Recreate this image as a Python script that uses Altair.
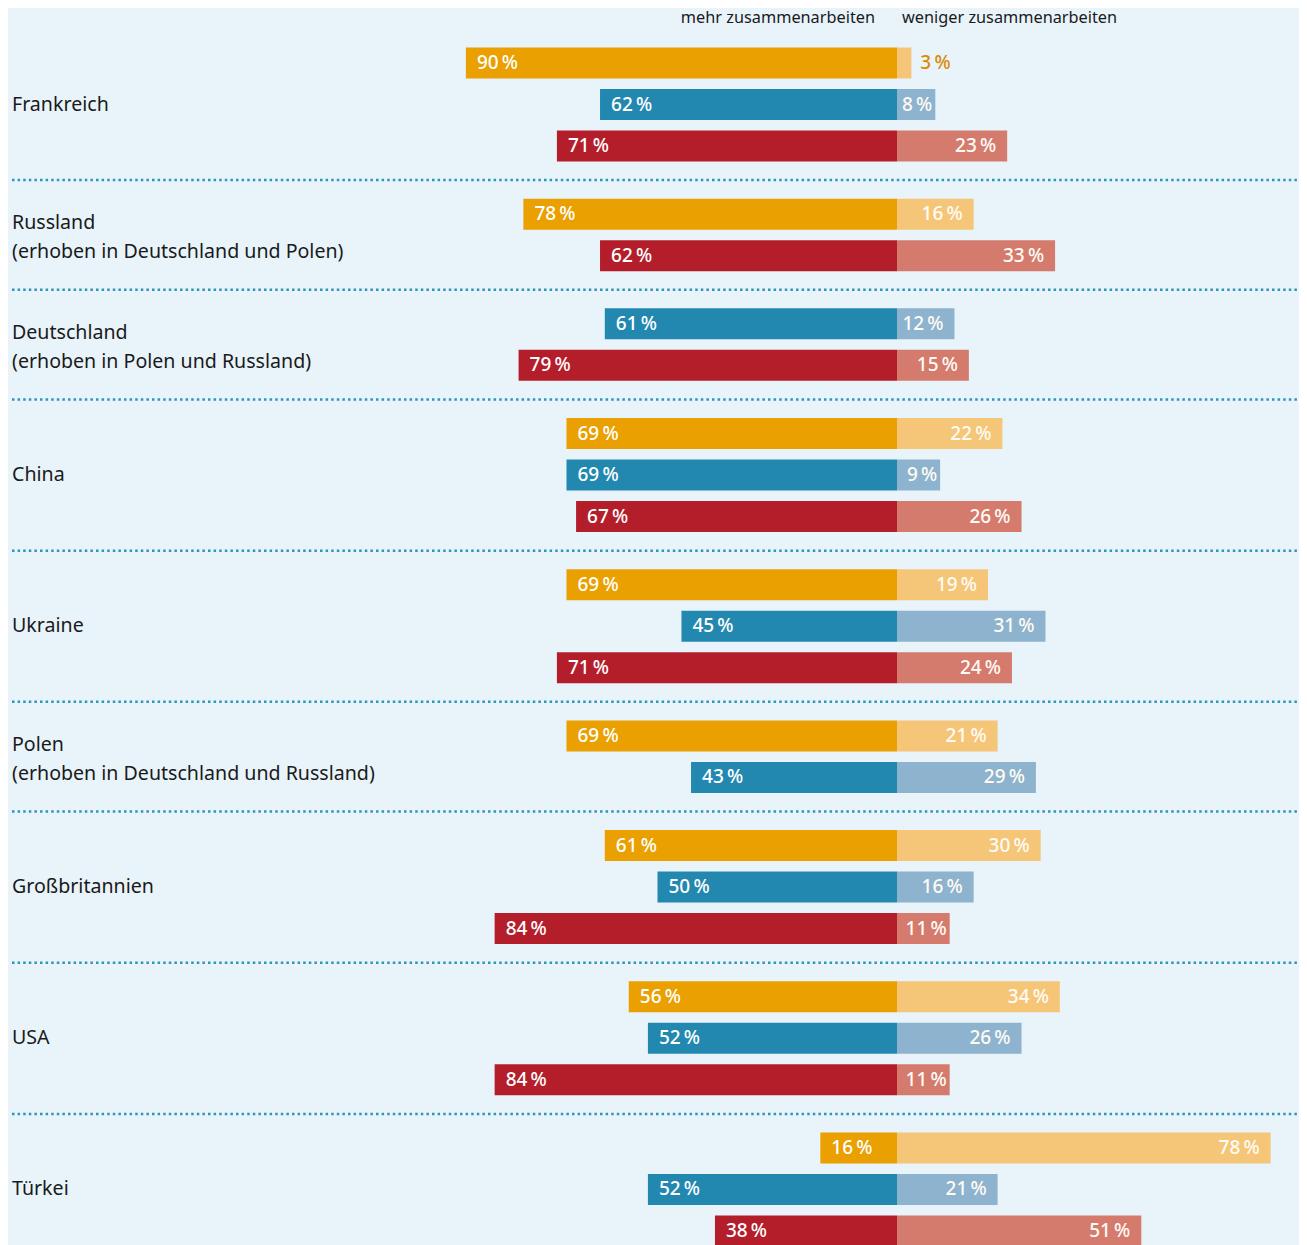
import altair as alt
import pandas as pd

# ---- data ----
group_lines = [
    ["Frankreich"],
    ["Russland", "(erhoben in Deutschland und Polen)"],
    ["Deutschland", "(erhoben in Polen und Russland)"],
    ["China"],
    ["Ukraine"],
    ["Polen", "(erhoben in Deutschland und Russland)"],
    ["Großbritannien"],
    ["USA"],
    ["Türkei"],
]
group_series = [
    ["Deutschland", "Russland", "Polen"],
    ["Deutschland", "Polen"],
    ["Russland", "Polen"],
    ["Deutschland", "Russland", "Polen"],
    ["Deutschland", "Russland", "Polen"],
    ["Deutschland", "Russland"],
    ["Deutschland", "Russland", "Polen"],
    ["Deutschland", "Russland", "Polen"],
    ["Deutschland", "Russland", "Polen"],
]
more_values = [
    [90, 62, 71], [78, 62], [61, 79], [69, 69, 67], [69, 45, 71],
    [69, 43], [61, 50, 84], [56, 52, 84], [16, 52, 38],
]
less_values = [
    [3, 8, 23], [16, 33], [12, 15], [22, 9, 26], [19, 31, 24],
    [21, 29], [30, 16, 11], [34, 26, 11], [78, 21, 51],
]
series_names = ["Deutschland", "Russland", "Polen"]
dark_colors = ["#E9A000", "#2288B0", "#B41E2B"]
light_colors = ["#F5C678", "#8EB3CE", "#D47B6E"]
header_left = "mehr zusammenarbeiten"
header_right = "weniger zusammenarbeiten"

# ---- layout constants ----
GAP_EXTRA = 0.643
W, H = 1291, 1250
PX_PER_PCT = 4.79
CENTER_PX = 889
ROW_PX = 41.5
FIRST_ROW_PX = 55
HALF_BAR = 15.5 / ROW_PX

x_dom = [-CENTER_PX / PX_PER_PCT, (W - CENTER_PX) / PX_PER_PCT]
y_min = -FIRST_ROW_PX / ROW_PX
y_dom = [y_min, y_min + H / ROW_PX]

rows, labels, seps = [], [], []
idx = 0
for g, (lines, sers, mv, lv) in enumerate(zip(group_lines, group_series, more_values, less_values)):
    poss = []
    for s, m, l in zip(sers, mv, lv):
        pos = idx + g * GAP_EXTRA
        poss.append(pos)
        rows.append({"series": s, "more": m, "less": l,
                     "neg": -m, "zero": 0, "pos": pos,
                     "ltxt": f"{m}\u2009%", "rtxt": f"{l}\u2009%"})
        idx += 1
    center = sum(poss) / len(poss)
    for li, line in enumerate(lines):
        labels.append({"label": line, "pos": center, "line": li, "nlines": len(lines)})
    if g < len(group_lines) - 1:
        seps.append({"pos": poss[-1] + (1 + GAP_EXTRA) / 2})

df = pd.DataFrame(rows)
ldf = pd.DataFrame(labels)
sdf = pd.DataFrame(seps)

xs = alt.Scale(domain=x_dom, nice=False, zero=False)
ys = alt.Scale(domain=y_dom, nice=False, zero=False, reverse=True)
FONT = "Noto Sans"


def X(f):
    return alt.X(f, scale=xs, axis=None)


def Y(f):
    return alt.Y(f, scale=ys, axis=None)


base = alt.Chart(df).transform_calculate(
    y0=f"datum.pos - {HALF_BAR}", y1=f"datum.pos + {HALF_BAR}")

layers = []
for s, dc, lc in zip(series_names, dark_colors, light_colors):
    sb = base.transform_filter(alt.datum.series == s)
    layers.append(sb.mark_rect(color=dc).encode(
        x=X("neg:Q"), x2="zero:Q", y=Y("y0:Q"), y2="y1:Q"))
    layers.append(sb.mark_rect(color=lc).encode(
        x=X("zero:Q"), x2="less:Q", y=Y("y0:Q"), y2="y1:Q"))

txt = dict(font=FONT, fontSize=19, fontWeight=500, baseline="middle")

left_text = alt.Chart(df).mark_text(align="left", dx=11, color="white", **txt).encode(
    x=X("neg:Q"), y=Y("pos:Q"), text="ltxt:N")
right_text_big = alt.Chart(df).transform_filter("datum.less >= 12").mark_text(
    align="right", dx=-11, color="#FFFBF5", **txt).encode(
    x=X("less:Q"), y=Y("pos:Q"), text="rtxt:N")
right_text_small = alt.Chart(df).transform_filter("datum.less >= 4 && datum.less < 12").mark_text(
    align="right", dx=-3, color="#FFFBF5", **txt).encode(
    x=X("less:Q"), y=Y("pos:Q"), text="rtxt:N")
right_text_out = alt.Chart(df).transform_filter("datum.less < 4").mark_text(
    align="left", dx=9, color="#D98C00", **txt).encode(
    x=X("less:Q"), y=Y("pos:Q"), text="rtxt:N")

sep_rules = alt.Chart(sdf).mark_rule(
    color="#2E96BA", strokeWidth=2.5, strokeDash=[2.5, 3.1]).encode(
    x=alt.value(4), x2=alt.value(W), y=Y("pos:Q"))

lab = dict(align="left", baseline="middle", font=FONT, fontSize=19.6, color="#1A1A1A")
single = alt.Chart(ldf).transform_filter("datum.nlines == 1").mark_text(**lab).encode(
    x=alt.value(4), y=Y("pos:Q"), text="label:N")
first = alt.Chart(ldf).transform_filter("datum.nlines == 2 && datum.line == 0").mark_text(
    dy=-12, **lab).encode(x=alt.value(4), y=Y("pos:Q"), text="label:N")
second = alt.Chart(ldf).transform_filter("datum.nlines == 2 && datum.line == 1").mark_text(
    dy=17, **lab).encode(x=alt.value(4), y=Y("pos:Q"), text="label:N")

hdf = pd.DataFrame({"zero": [0], "l": [header_left], "r": [header_right]})
head_l = alt.Chart(hdf).mark_text(
    align="right", baseline="alphabetic", dx=-22, font=FONT, fontSize=16.3, color="#1A1A1A").encode(
    x=X("zero:Q"), y=alt.value(15), text="l:N")
head_r = alt.Chart(hdf).mark_text(
    align="left", baseline="alphabetic", dx=5, font=FONT, fontSize=16.3, color="#1A1A1A").encode(
    x=X("zero:Q"), y=alt.value(15), text="r:N")

chart = alt.layer(
    sep_rules, *layers, left_text, right_text_big, right_text_small,
    right_text_out, single, first, second, head_l, head_r,
).properties(
    width=W, height=H, background="#E8F3FA", padding=0,
    autosize=alt.AutoSizeParams(type="none"),
).configure_view(stroke=None)

chart.save("out.html", embed_options={"renderer": "svg", "actions": False})
